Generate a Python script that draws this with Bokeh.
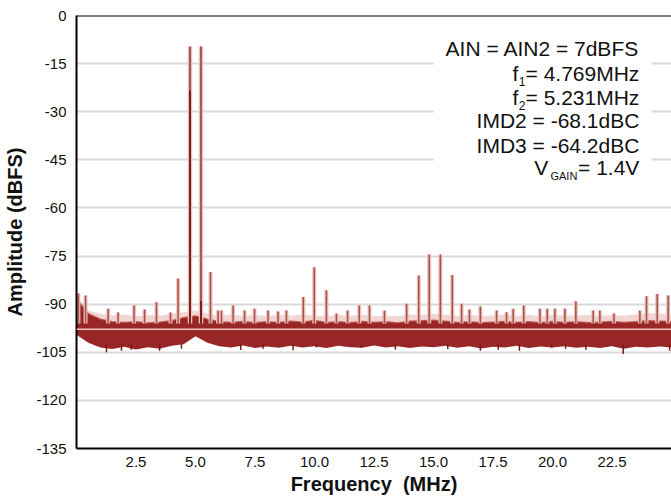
from bokeh.plotting import figure
from bokeh.models import Range1d, FixedTicker, PrintfTickFormatter, Span
from bokeh.core.properties import value
from bokeh.embed import file_html
from bokeh.resources import INLINE

# ---------------- data ----------------
# noise floor band envelope (MHz, dBFS)
noise_f = [0.0, 0.5, 1.0, 1.5, 2.0, 2.5, 3.0, 3.5, 4.0, 4.5, 5.0, 5.5, 6.0, 6.5, 7.0, 7.5,
           8.0, 8.5, 9.0, 9.5, 10.0, 10.5, 11.0, 11.5, 12.0, 12.5, 13.0, 13.5, 14.0, 14.5,
           15.0, 15.5, 16.0, 16.5, 17.0, 17.5, 18.0, 18.5, 19.0, 19.5, 20.0, 20.5, 21.0,
           21.5, 22.0, 22.5, 23.0, 23.5, 24.0, 24.5, 25.0]
noise_hi = [-88.5, -93.0, -94.7, -95.5, -95.7, -95.5, -95.9, -95.6, -95.2, -94.2, -93.7,
            -94.7, -95.5, -95.7, -95.4, -95.8, -95.5, -95.7, -95.3, -95.6, -95.1, -95.7,
            -95.5, -95.8, -95.4, -95.7, -95.5, -95.9, -95.3, -95.2, -95.0, -95.3, -95.7,
            -95.5, -95.8, -95.6, -95.4, -95.7, -95.5, -95.8, -95.4, -95.7, -95.5, -95.8,
            -95.6, -95.4, -95.7, -95.5, -95.2, -95.3, -95.4]
noise_lo = [-99.5, -102.0, -103.5, -104.0, -103.3, -104.1, -103.4, -103.9, -103.0, -102.5,
            -100.0, -102.0, -103.1, -103.5, -102.9, -103.7, -103.2, -103.6, -103.0, -103.5,
            -103.1, -103.7, -103.0, -103.4, -103.6, -102.9, -103.5, -103.1, -103.7, -103.2,
            -103.4, -103.0, -103.6, -103.1, -103.8, -103.3, -103.5, -103.0, -103.7, -103.2,
            -103.5, -103.1, -103.6, -103.3, -103.7, -103.1, -103.9, -103.3, -103.5, -103.2,
            -103.5]
# light "grass" of small bins above the dark band
grass_hi = [-87.5, -92.0, -93.0, -93.5, -93.2, -93.8, -93.4, -93.6, -93.0, -92.5, -92.0,
            -93.0, -93.5, -93.2, -93.7, -93.4, -93.8, -93.3, -93.6, -93.2, -93.5, -93.8,
            -93.4, -93.6, -93.3, -93.7, -93.5, -93.8, -93.2, -93.4, -93.0, -93.3, -93.6,
            -93.4, -93.7, -93.5, -93.2, -93.6, -93.4, -93.8, -93.3, -93.5, -93.6, -93.3,
            -93.7, -93.4, -93.6, -93.2, -92.8, -93.0, -93.2]
# light trace level through the noise band
trace2_level = -97.8

# deep dips below the noise band
dip_f = [1.26, 1.89, 2.30, 3.49, 4.41, 6.90, 7.84, 9.10, 10.08, 11.97, 13.40, 15.60, 16.97,
         17.72, 18.61, 19.96, 20.55, 21.40, 22.97, 24.92]
dip_db = [-105.0, -104.5, -104.2, -104.5, -103.9, -104.3, -103.9, -104.4, -103.5, -103.5,
          -104.1, -104.0, -104.5, -104.2, -104.5, -103.6, -103.9, -104.2, -105.5, -104.5]

# tones and spurs (MHz, dBFS)
tone_f = [4.769, 5.231]
tone_db = [-9.7, -9.7]
tone_core_db = [-23.4, -89.0]

spur_f = [0.08, 0.38, 1.33, 1.75, 2.42, 2.86, 3.36, 3.95, 4.27, 5.63, 5.95, 6.09, 6.58, 7.06,
          7.48, 8.05, 8.47, 8.82, 9.53, 9.99, 10.50, 10.92, 11.39, 11.88, 12.31, 12.94, 13.87,
          14.38, 14.82, 15.29, 15.79, 16.18, 16.51, 16.97, 17.65, 18.07, 18.35, 18.79, 19.47,
          19.78, 20.10, 20.52, 20.98, 21.71, 21.99, 22.58, 23.67, 23.95, 24.40, 24.86]
spur_db = [-86.7, -87.3, -91.4, -92.6, -90.4, -91.7, -89.4, -92.6, -82.0, -80.0, -92.0, -92.0,
           -90.4, -92.0, -91.4, -92.0, -92.3, -92.0, -87.8, -78.5, -85.7, -92.9, -92.0, -90.4,
           -90.4, -92.0, -89.9, -81.1, -74.5, -74.5, -80.9, -89.9, -91.7, -90.7, -92.0, -92.5,
           -91.4, -90.4, -91.4, -91.4, -91.4, -91.4, -89.1, -92.0, -92.0, -92.9, -92.0, -87.5,
           -86.8, -87.3]

y_ticks = [0, -15, -30, -45, -60, -75, -90, -105, -120, -135]
x_ticks = [2.5, 5.0, 7.5, 10.0, 12.5, 15.0, 17.5, 20.0, 22.5]

note_lines = ["AIN = AIN2 = 7dBFS", "= 4.769MHz", "= 5.231MHz", "IMD2 = -68.1dBC",
              "IMD3 = -64.2dBC", "= 1.4V"]
note_prefix = ["", "f", "f", "", "", "V"]
note_sub = ["", "1", "2", "", "", "GAIN"]

FONT = "Liberation Sans"
BASE = -96.0

# ---------------- figure ----------------
p = figure(width=671, height=498, output_backend="svg", toolbar_location=None,
           x_range=Range1d(0, 25), y_range=Range1d(-135, 0),
           min_border_left=76, min_border_right=0, min_border_top=15, min_border_bottom=50)
p.outline_line_color = None
p.background_fill_color = "white"
p.border_fill_color = "white"

p.xgrid.grid_line_color = None
p.ygrid.grid_line_color = "#d9d9d9"
p.ygrid.grid_line_width = 2

p.yaxis.ticker = FixedTicker(ticks=y_ticks)
p.xaxis.ticker = FixedTicker(ticks=x_ticks)
p.xaxis.formatter = PrintfTickFormatter(format="%.1f")
p.yaxis.formatter = PrintfTickFormatter(format="%d")
for ax in (p.xaxis[0], p.yaxis[0]):
    ax.axis_line_color = "black"
    ax.axis_line_width = 2
    ax.major_tick_line_color = None
    ax.minor_tick_line_color = None
    ax.major_tick_out = 0
    ax.major_tick_in = 0
    ax.major_label_text_font = FONT
    ax.major_label_text_font_size = "15px"
    ax.major_label_text_color = "#111111"
    ax.axis_label_text_font = FONT
    ax.axis_label_text_font_size = "20px"
    ax.axis_label_text_font_style = "bold"
    ax.axis_label_text_color = "#111111"
p.yaxis.major_label_standoff = 10
p.yaxis.axis_label_standoff = 7
p.xaxis.major_label_standoff = 8
p.xaxis.axis_label_standoff = 3
p.yaxis.axis_label = "Amplitude (dBFS)"
p.xaxis.axis_label = "Frequency\u00a0\u00a0(MHz)"

# top frame line
p.add_layout(Span(location=0, dimension="width", line_color="black", line_width=2))

# white box behind the annotation (covers gridlines)
p.quad(left=[15.0], right=[24.16], top=[-4.7], bottom=[-54.6],
       fill_color="white", line_color=None)

# noise floor
p.varea(x=noise_f, y1=noise_hi, y2=grass_hi, fill_color="#d88a84", fill_alpha=0.35)
p.varea(x=noise_f, y1=noise_lo, y2=noise_hi, fill_color="#931a1a", fill_alpha=0.95)
p.line(x=noise_f, y=noise_hi, line_color="#b8403a", line_width=1.5, line_alpha=0.8)
p.segment(x0=dip_f, y0=[-102.5] * len(dip_f), x1=dip_f, y1=dip_db,
          line_color="#7e1818", line_width=1.5)
p.add_layout(Span(location=trace2_level, dimension="width", line_color="#f2c4c0",
                  line_width=1.5))

# spurs
p.segment(x0=spur_f, y0=[BASE] * len(spur_f), x1=spur_f, y1=spur_db,
          line_color="#ecc0bb", line_width=4)
p.segment(x0=spur_f, y0=[BASE] * len(spur_f), x1=spur_f, y1=spur_db,
          line_color="#a8504a", line_width=1.5)

# main tones
p.segment(x0=tone_f, y0=[BASE] * 2, x1=tone_f, y1=tone_db,
          line_color="#ecc0bb", line_width=4.5)
p.segment(x0=tone_f, y0=[BASE] * 2, x1=tone_f, y1=tone_db,
          line_color="#a65a55", line_width=2)
p.segment(x0=tone_f, y0=[BASE] * 2, x1=tone_f, y1=tone_core_db,
          line_color="#7a1e1e", line_width=2)

# annotation text
ax_x = 23.65
line_y = [-10.3, -18.1, -25.6, -32.7, -40.5, -47.4]
p.text(x=[ax_x] * len(note_lines), y=line_y, text=note_lines,
       text_font=value(FONT), text_font_size="21px", text_color="#111111",
       text_align="right", text_baseline="middle")
# subscripts and prefixes
sub_off = [0, -114, -114, 0, 0, -62]
pre_off = [0, -121, -121, 0, 0, -91]
for i in range(len(note_lines)):
    if note_sub[i]:
        fs = "12px" if len(note_sub[i]) == 1 else "11px"
        p.text(x=[ax_x], y=[line_y[i]], text=[note_sub[i]], x_offset=sub_off[i], y_offset=8,
               text_font=value(FONT), text_font_size=fs, text_color="#111111",
               text_align="right", text_baseline="middle")
        p.text(x=[ax_x], y=[line_y[i]], text=[note_prefix[i]], x_offset=pre_off[i],
               text_font=value(FONT), text_font_size="21px", text_color="#111111",
               text_align="right", text_baseline="middle")

open("out.html", "w").write(file_html(p, INLINE))
